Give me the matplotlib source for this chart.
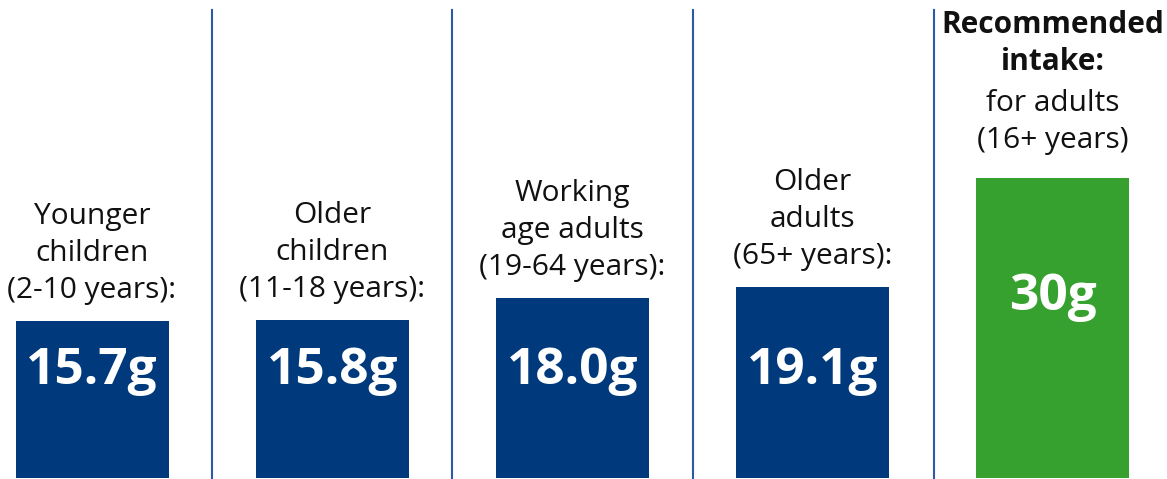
import matplotlib.pyplot as plt

groups = ["Younger\nchildren\n(2-10 years):", "Older\nchildren\n(11-18 years):",
          "Working\nage adults\n(19-64 years):", "Older\nadults\n(65+ years):"]
intake = [15.7, 15.8, 18.0, 19.1]
recommended = 30
rec_title = "Recommended\nintake:"
rec_sub = "for adults\n(16+ years)"

blue = "#003a7d"
green = "#36a12f"
line_col = "#2a5aa8"

plt.rcParams['font.family'] = ['Open Sans', 'DejaVu Sans']

fig = plt.figure(figsize=(11.67, 4.79), dpi=100)
ax = fig.add_axes([0, 0, 1, 1])
ax.set_xlim(0, 1167)
ax.set_ylim(-0.1, 47.8)   # 10 px per gram, baseline near the bottom edge
ax.axis('off')

xs = [92, 332.5, 572.5, 812.5]
w = 153

ax.bar(xs, intake, width=w, color=blue, align='center')
for x, v, lab in zip(xs, intake, groups):
    ax.text(x, 10.7, f"{v:.1f}g", color='white', fontsize=37, fontweight='bold',
            ha='center', va='center')
    ax.text(x, v + 1.6, lab, fontsize=21.5, ha='center', va='bottom',
            linespacing=1.36, color='#111111')

x5 = 1052.5
ax.bar([x5], [recommended], width=w, color=green, align='center')
ax.text(x5, 18.1, f"{recommended}g", color='white', fontsize=37, fontweight='bold',
        ha='center', va='center')
ax.text(x5, recommended + 2.3, rec_sub, fontsize=21.5, ha='center', va='bottom',
        linespacing=1.36, color='#111111')
ax.text(x5, recommended + 10.1, rec_title, fontsize=21.5, fontweight='bold',
        ha='center', va='bottom', linespacing=1.31, color='#111111')

# thin separators between the groups
for xd in [212, 452, 693, 934]:
    ax.plot([xd, xd], [-0.1, 46.8], color=line_col, lw=1.5)

fig.savefig("out.png", dpi=100)
